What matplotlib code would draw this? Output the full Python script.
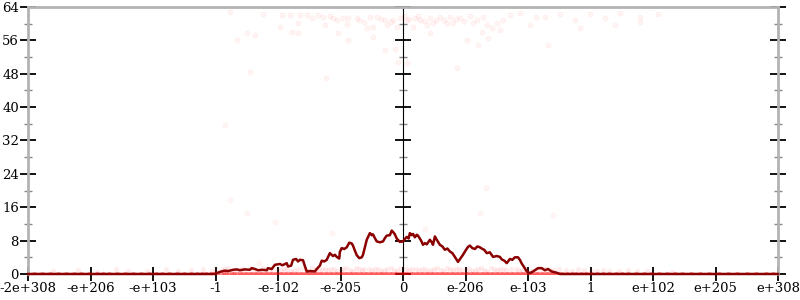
import matplotlib
matplotlib.use('Agg')
import matplotlib.pyplot as plt
from matplotlib.ticker import MultipleLocator, NullFormatter

# ---- data (x in ordinal tick units: -6 .. 6) ----
tick_pos = [-6, -5, -4, -3, -2, -1, 0, 1, 2, 3, 4, 5, 6]
tick_labels = ['-2e+308', '-e+206', '-e+103', '-1', '-e-102', '-e-205', '0',
               'e-206', 'e-103', '1', 'e+102', 'e+205', 'e+308']

line_x = [-6.0, -3.01, -2.96, -2.93, -2.85, -2.80, -2.72, -2.66, -2.61, -2.53, -2.45,
          -2.42, -2.37, -2.32, -2.25, -2.18, -2.16, -2.10, -2.05, -1.97, -1.93, -1.90,
          -1.86, -1.84, -1.79, -1.76, -1.71, -1.68, -1.65, -1.60, -1.57, -1.54, -1.48,
          -1.41, -1.38, -1.33, -1.30, -1.26, -1.22, -1.17, -1.12, -1.09, -1.06, -1.02,
          -1.01, -0.98, -0.94, -0.90, -0.86, -0.82, -0.80, -0.77, -0.74, -0.70, -0.66,
          -0.64, -0.61, -0.58, -0.53, -0.50, -0.48, -0.45, -0.42, -0.37, -0.32, -0.29,
          -0.26, -0.21, -0.18, -0.15, -0.13, -0.10, -0.05, 0.0, 0.03, 0.06, 0.09, 0.11,
          0.14, 0.16, 0.19, 0.22, 0.24, 0.29, 0.32, 0.35, 0.38, 0.43, 0.46, 0.48, 0.51,
          0.54, 0.59, 0.63, 0.67, 0.71, 0.75, 0.79, 0.83, 0.88, 0.96, 1.00, 1.04, 1.07,
          1.11, 1.15, 1.19, 1.23, 1.27, 1.30, 1.34, 1.39, 1.44, 1.50, 1.55, 1.58, 1.62,
          1.66, 1.71, 1.75, 1.79, 1.84, 1.87, 1.90, 1.94, 1.98, 2.03, 2.08, 2.12, 2.16,
          2.22, 2.27, 2.32, 2.38, 2.46, 2.51, 6.0]
line_y = [0.0, 0.0, 0.3, 0.5, 0.8, 0.7, 1.0, 1.1, 0.9, 1.1, 1.0,
          1.4, 1.2, 0.9, 1.0, 0.9, 1.4, 1.2, 2.2, 2.4, 2.1, 2.3,
          2.6, 1.8, 2.0, 3.4, 3.6, 3.0, 3.4, 3.3, 1.9, 0.6, 0.7,
          0.6, 1.2, 2.0, 3.2, 3.0, 3.4, 5.0, 4.3, 4.6, 4.1, 3.7,
          5.3, 6.2, 6.0, 6.4, 7.5, 7.3, 6.8, 5.6, 4.5, 3.8, 4.0,
          4.6, 6.4, 8.2, 9.8, 9.3, 9.5, 8.6, 7.8, 7.6, 7.8, 8.6,
          9.2, 9.3, 10.4, 9.9, 9.5, 8.5, 7.7, 7.8, 8.4, 8.9, 8.5, 9.8,
          9.3, 9.6, 8.8, 9.4, 9.2, 8.0, 7.0, 7.4, 7.1, 8.2, 7.6, 7.0, 9.0,
          8.2, 7.0, 6.6, 5.8, 6.1, 5.4, 5.0, 4.1, 2.9, 4.6, 5.6, 6.5, 6.8,
          6.2, 6.0, 6.6, 6.4, 6.0, 5.8, 5.0, 5.2, 4.1, 4.3, 4.1, 3.5, 3.2,
          2.6, 3.6, 3.4, 4.0, 4.0, 3.4, 2.5, 1.6, 0.6, 0.2, 0.6, 1.0, 1.4,
          1.4, 0.9, 1.2, 0.6, 0.3, 0.0, 0.0]

# high-error samples
high_x = [-2.77, -2.24, -1.94, -1.81, -1.65, -1.54, -1.36, -1.28, -1.17, -1.12, -0.96,
          -0.88, -0.74, -0.53, -0.42, -0.29, -0.16, -0.05, 0.06, 0.19, 0.27, 0.43,
          0.59, 0.75, 0.91, 1.07, 1.28, 1.50, -1.97, -1.68, -1.25, -0.90, -0.58,
          -0.48, -0.26, -0.10, 0.16, 0.38, 0.48, 0.70, 0.80, 1.12, 1.34, -2.50,
          -2.37, -1.78, -1.68, -1.04, -0.48, 0.43, 1.26, 1.42, -2.66, -0.88, 1.02,
          1.36, -0.29, -0.13, -0.08, 0.06, -2.45, -1.23, 0.86,
          1.71, 1.87, 2.27, 2.51, 2.75, 2.99, 3.23, 3.47, 3.79, 4.08, 2.03, 2.83,
          3.39, 1.55, 2.32, 3.79, -0.70, -0.35, -0.20, 0.10, 0.33, 0.52, 0.66,
          0.97, 1.18, -1.45, -1.05, -0.62, 0.02, 0.24, 0.84, 1.60, 2.12]
high_y = [62.7, 62.3, 62.1, 62.1, 62.1, 62.1, 62.1, 61.6, 61.9, 61.4, 61.4,
          61.4, 61.4, 61.6, 61.6, 60.9, 60.9, 61.4, 60.9, 61.4, 60.9, 61.4,
          61.6, 61.6, 61.4, 61.9, 61.6, 60.2, 59.2, 60.2, 59.7, 60.0, 59.0,
          59.2, 59.7, 59.2, 59.2, 59.7, 60.2, 60.2, 60.2, 60.2, 59.7, 57.8,
          57.3, 58.0, 57.8, 57.8, 56.8, 57.8, 58.0, 59.0, 56.1, 56.1, 56.1,
          56.6, 53.7, 54.0, 50.8, 50.6, 48.4, 47.0, 49.4,
          62.1, 62.6, 61.6, 62.3, 60.9, 62.3, 61.4, 62.6, 61.6, 62.3, 59.7, 59.0,
          59.7, 58.5, 54.9, 60.4, 61.0, 61.2, 60.5, 61.1, 60.6, 61.0, 60.8,
          60.7, 61.0, 61.3, 60.8, 60.4, 61.8, 61.9, 61.2, 61.0, 61.5]

# sparse mid-range samples
mid_x = [-2.85, 1.20, 1.33, -2.50, -2.77, -2.05, 1.23, -2.30, -1.14, 0.35, 2.40]
mid_y = [35.7, 54.9, 20.6, 14.6, 17.7, 12.5, 14.6, 2.6, 9.8, 10.8, 14.1]

# low-error samples (just above zero)
low_x = [-5.6, -5.2, -4.9, -4.6, -4.4, -4.1, -3.8, -3.6, -3.4, -3.2, -3.05, -2.9,
         -2.8, -2.65, -2.55, -2.45, -2.3, -2.2, -2.1, -1.95, -1.85, -1.75, -1.6,
         -1.5, -1.4, -1.3, -1.2, -1.1, -1.0, -0.92, -0.8, -0.7, -0.62, -0.5, -0.4,
         -0.3, -0.2, -0.1, 0.05, 0.15, 0.25, 0.35, 0.45, 0.55, 0.65, 0.75, 0.85,
         0.95, 1.05, 1.15, 1.25, 1.35, 1.45, 1.55, 1.65, 1.8, 1.9, 2.05, 2.2, 2.35,
         2.5, 2.7, 2.9, 3.1, 3.3, 3.6, 3.9, 4.3,
         -3.0, -2.85, -2.72, -2.6, -2.38, -2.25, -2.15, -2.02, -1.9, -1.8, -1.68,
         -1.55, -1.45, -1.35, -1.25, -1.15, -1.05, -0.96, -0.85, -0.75, -0.66,
         -0.55, -0.45, -0.35, -0.25, -0.15, -0.05, 0.1, 0.2, 0.3, 0.4, 0.5, 0.6,
         0.7, 0.8, 0.9, 1.0, 1.1, 1.2, 1.3, 1.4, 1.5, 1.6, 1.72, 1.85, 1.97,
         2.12, 2.27, 2.42, 2.6, 2.8, 3.0, 3.2, 3.45, 3.75]
low_y = [0.6, 0.9, 0.5, 1.1, 0.7, 0.8, 1.2, 0.6, 1.0, 1.3, 0.8, 1.1,
         1.4, 0.9, 1.2, 1.5, 0.8, 1.1, 1.3, 0.9, 1.2, 1.0, 1.4,
         0.8, 1.1, 1.3, 0.9, 1.2, 1.0, 1.4, 0.8, 1.1, 1.3, 0.9, 1.2,
         1.0, 1.4, 0.8, 1.1, 1.3, 0.9, 1.2, 1.0, 1.4, 0.8, 1.1, 1.3,
         0.9, 1.2, 1.0, 1.4, 0.8, 1.1, 1.3, 0.9, 1.2, 1.0, 0.8, 1.1, 0.9,
         1.2, 0.7, 1.0, 0.8, 0.6, 0.9, 0.7, 0.5,
         1.0, 1.3, 0.8, 1.2, 1.0, 1.4, 0.9, 1.1, 1.3, 0.8, 1.2,
         1.0, 1.4, 0.9, 1.1, 1.3, 0.8, 1.2, 1.0, 1.4, 0.9,
         1.1, 1.3, 0.8, 1.2, 1.0, 1.4, 0.9, 1.1, 1.3, 0.8, 1.2, 1.0,
         1.4, 0.9, 1.1, 1.3, 0.8, 1.2, 1.0, 1.4, 0.9, 1.1, 1.3, 1.0, 1.2,
         0.8, 1.2, 1.0, 0.9, 1.1, 0.8, 1.0, 0.7, 0.6]

# zero-error samples
zero_x = [-5.9, -5.78, -5.65, -5.52, -5.4, -5.27, -5.15, -5.02, -4.9, -4.8, -4.7,
          -4.57, -4.45, -4.32, -4.2, -4.07, -3.95, -3.85, -3.75, -3.62, -3.5, -3.4,
          -3.3, -3.22, -3.15, -3.08, -3.02, -2.97, -2.92, -2.87, -2.83, -2.78,
          -2.74, -2.70, -2.66, -2.61, -2.57, -2.53, -2.49, -2.45, -2.41, -2.37,
          -2.33, -2.29, -2.25, -2.21, -2.17, -2.13, -2.09, -2.05, -2.01, -1.97,
          -1.93, -1.89, -1.85, -1.81, -1.77, -1.73, -1.69, -1.65, -1.61, -1.57,
          -1.53, -1.49, -1.45, -1.41, -1.37, -1.33, -1.29, -1.25, -1.21, -1.17,
          -1.13, -1.09, -1.05, -1.01, -0.97, -0.93, -0.89, -0.85, -0.81, -0.77,
          -0.73, -0.69, -0.65, -0.61, -0.57, -0.53, -0.49, -0.45, -0.41, -0.37,
          -0.33, -0.29, -0.25, -0.21, -0.17, -0.13, -0.09, -0.05, -0.02, 0.01,
          0.04, 0.08, 0.12, 0.16, 0.2, 0.24, 0.28, 0.32, 0.36, 0.4, 0.44, 0.48,
          0.52, 0.56, 0.6, 0.64, 0.68, 0.72, 0.76, 0.8, 0.84, 0.88, 0.92, 0.96,
          1.0, 1.04, 1.08, 1.12, 1.16, 1.2, 1.24, 1.28, 1.32, 1.36, 1.4, 1.44,
          1.48, 1.52, 1.56, 1.6, 1.64, 1.68, 1.72, 1.76, 1.8, 1.84, 1.88, 1.92,
          1.96, 2.0, 2.04, 2.08, 2.12, 2.16, 2.2, 2.24, 2.28, 2.32, 2.36, 2.4,
          2.44, 2.5, 2.55, 2.62, 2.7, 2.77, 2.85, 2.92, 3.0, 3.1, 3.2, 3.3, 3.4,
          3.5, 3.6, 3.72, 3.85, 3.97, 4.1, 4.22, 4.35, 4.47, 4.6, 4.75, 4.9,
          5.05, 5.2, 5.35, 5.5, 5.65, 5.8, 5.92]

# ---- drawing ----
fig = plt.figure(figsize=(8, 3), dpi=100)
ax = fig.add_axes([0.035, 0.0867, 0.9375, 0.89])
ax.set_xlim(-6, 6)
ax.set_ylim(0, 64)

grey = '#b3b3b3'
for s in ['left', 'right', 'top']:
    ax.spines[s].set_color(grey)
    ax.spines[s].set_linewidth(2)
ax.spines['bottom'].set_visible(False)

ax.yaxis.set_major_locator(MultipleLocator(8))
ax.yaxis.set_minor_locator(MultipleLocator(4))
ax.tick_params(axis='y', which='major', direction='inout', length=11, width=1.3,
               color='black', left=True, right=True, labelsize=9.5, pad=1)
ax.tick_params(axis='y', which='minor', direction='inout', length=6, width=1,
               color='#888888', left=True, right=True)
ax.set_xticks(tick_pos)
ax.set_xticklabels(tick_labels)
ax.tick_params(axis='x', direction='inout', length=10, width=1.3, color='black',
               labelsize=9.5, pad=1)
for lab in ax.get_xticklabels() + ax.get_yticklabels():
    lab.set_family('DejaVu Serif')

sec = ax.secondary_yaxis(0.5)
sec.spines['left'].set_color(grey)
sec.spines['left'].set_linewidth(2)
sec.yaxis.set_major_locator(MultipleLocator(8))
sec.yaxis.set_minor_locator(MultipleLocator(4))
sec.yaxis.set_major_formatter(NullFormatter())
sec.tick_params(axis='y', which='major', direction='inout', length=11, width=1.3,
                color='black', labelleft=False)
sec.tick_params(axis='y', which='minor', direction='inout', length=6, width=1,
                color='#888888')

kw = dict(marker='o', s=14, color='red', zorder=2)
ax.scatter(high_x, high_y, alpha=0.045, linewidths=0.6, clip_on=False, **kw)
ax.scatter(mid_x, mid_y, alpha=0.04, linewidths=0.6, clip_on=False, **kw)
ax.scatter(low_x, low_y, alpha=0.07, linewidths=0, clip_on=False, **kw)
ax.scatter(zero_x, [0] * len(zero_x), alpha=0.4, linewidths=0, clip_on=True, **kw)

ax.plot(line_x, line_y, color='#8b0000', lw=1.8, zorder=4, clip_on=False)

fig.savefig('out.png', dpi=100)
